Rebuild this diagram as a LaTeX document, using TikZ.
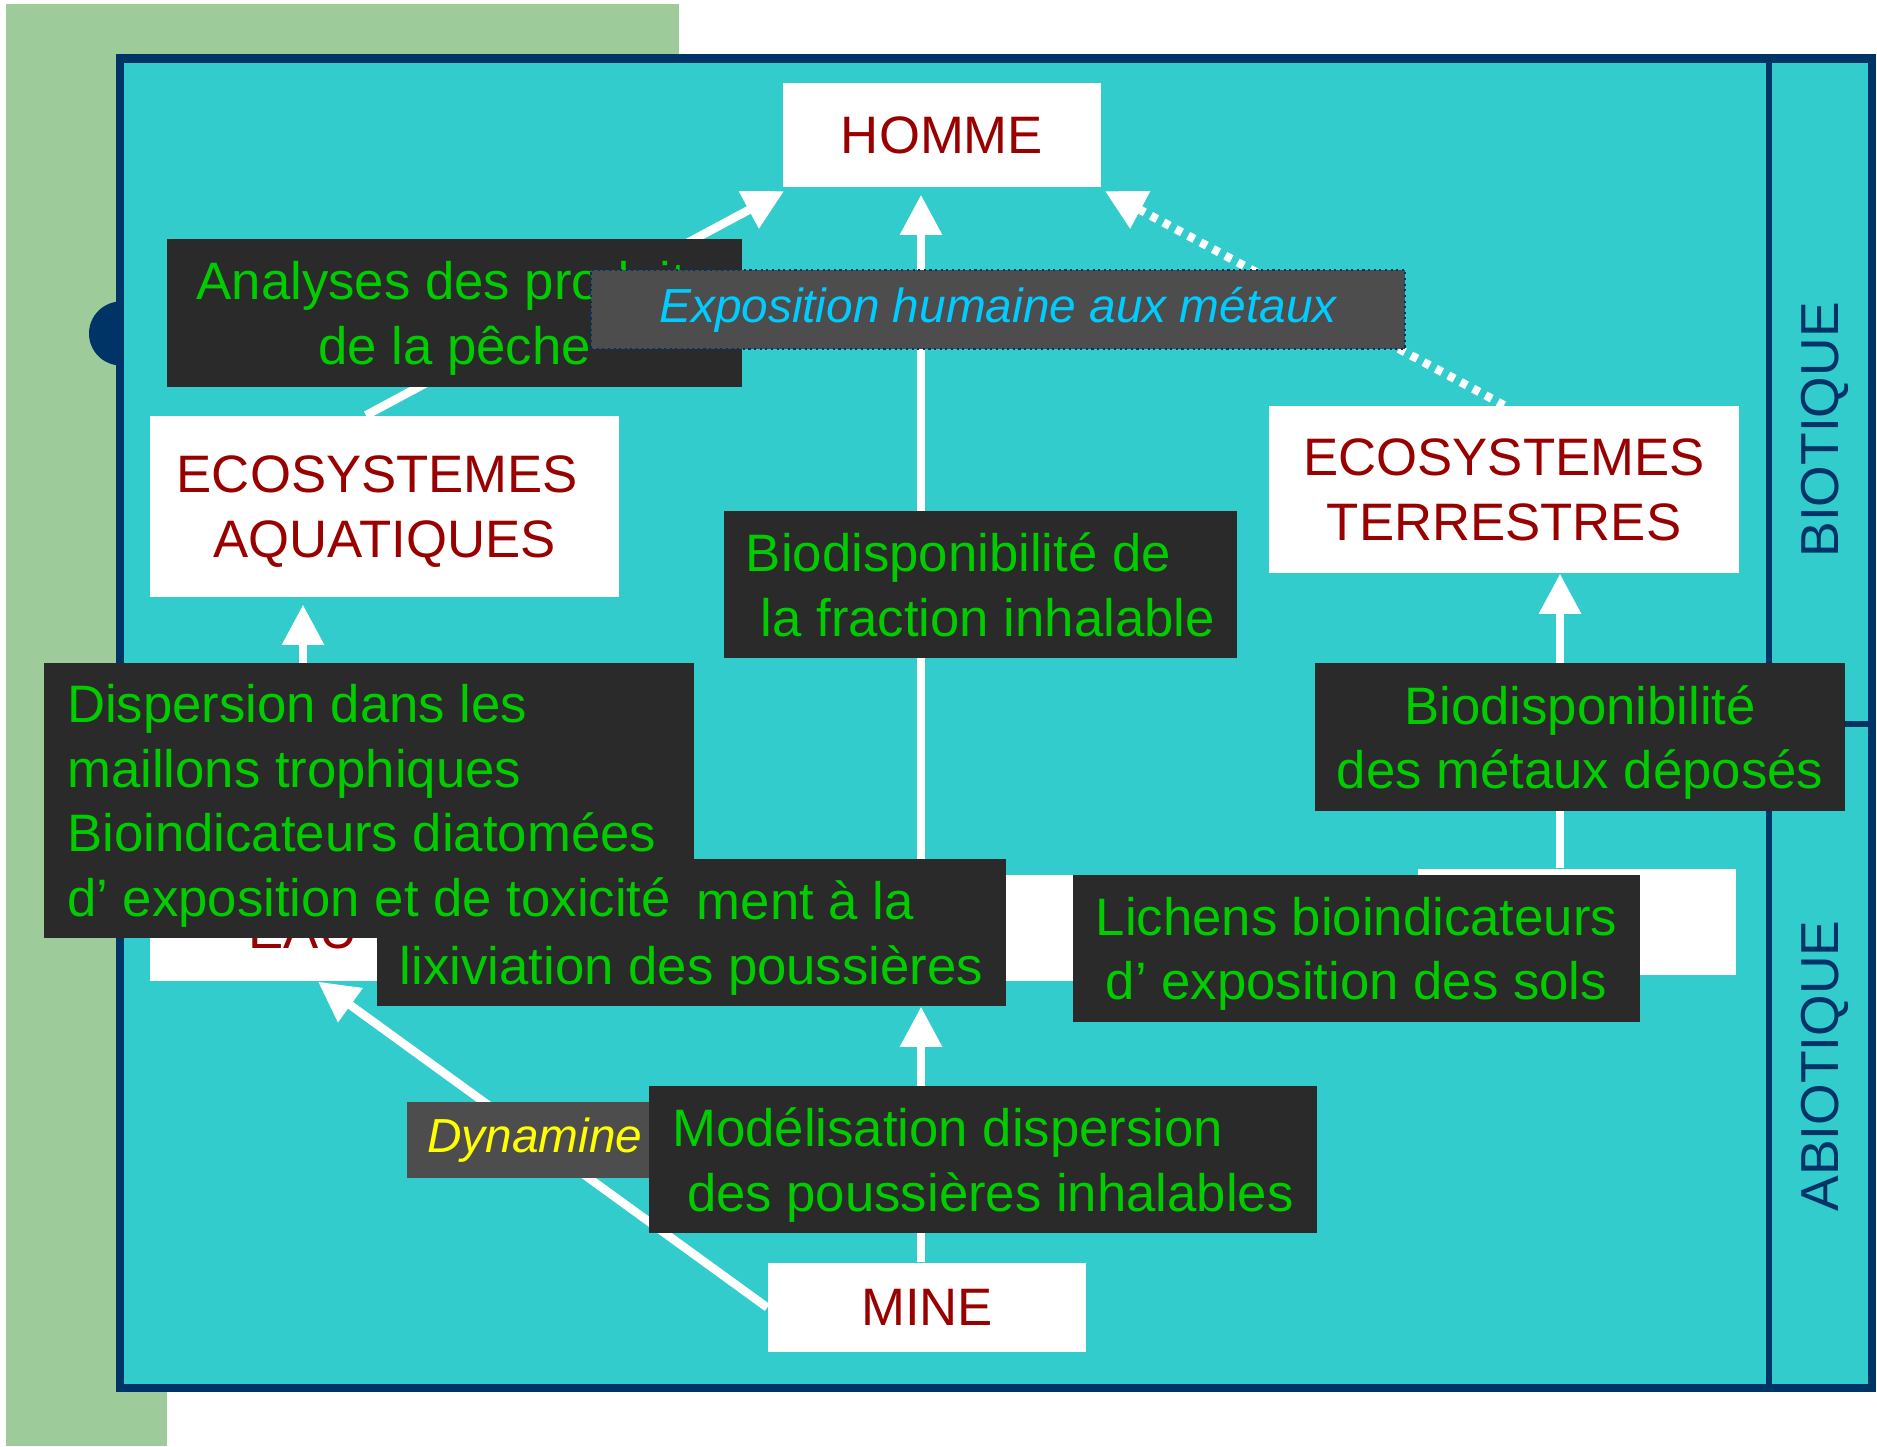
\documentclass[tikz,border=0pt]{standalone}
\usepackage{fontspec}
\setmainfont{Liberation Sans}
\usepackage{tikz}
\usetikzlibrary{arrows.meta, positioning}
\usepackage{xcolor}
\definecolor{bggreen}{HTML}{9DCC9A}
\definecolor{lagoon}{HTML}{33CCCC}
\definecolor{frameblue}{HTML}{003366}
\definecolor{boxdark}{HTML}{2A2A2A}
\definecolor{boxgrey}{HTML}{4D4D4D}
\definecolor{labelgreen}{HTML}{00CC00}
\definecolor{labelred}{HTML}{990000}
\definecolor{labelcyan}{HTML}{00CCFF}
\definecolor{labelyellow}{HTML}{FFFF00}
\tikzset{
	whitebox/.style={fill=white, text=labelred, align=center, inner sep=0pt, text depth=0pt, font=\fontsize{15}{18.4}\selectfont},
	darkbox/.style={fill=boxdark, text=labelgreen, inner sep=0pt, text depth=0pt, font=\fontsize{15}{18.4}\selectfont},
	greybox/.style={fill=boxgrey, inner sep=0pt, font=\fontsize{13.6}{16}\selectfont\itshape},
	flow/.style={white, line width=2.4pt, -{Triangle[length=11.4pt,width=11.4pt]}},
	sidelabel/.style={rotate=90, text=frameblue, inner sep=0pt, font=\fontsize{15.2}{16}\selectfont}
}

\begin{document}
\begin{tikzpicture}
				\useasboundingbox (0,0) rectangle (18.77,14.46);
				\fill[bggreen] (0.06,14.42) rectangle (6.79,10);
				\fill[bggreen] (0.06,14.42) rectangle (1.67,0);
				\fill[frameblue] (1.21,11.125) circle (0.32);
				\filldraw[fill=lagoon, draw=frameblue, line width=2.3pt] (1.20,0.58) rectangle (18.72,13.875);
				\draw[frameblue, line width=1.7pt] (17.685,13.875) -- (17.685,0.58);
				\draw[frameblue, line width=1.7pt] (17.685,7.22) -- (18.72,7.22);
				\node[sidelabel] (bio) at (18.25,10.16) {BIOTIQUE};
				\node[sidelabel] (abio) at (18.25,3.80) {ABIOTIQUE};

				\node[whitebox, minimum width=3.18cm, minimum height=1.04cm] (homme) at (9.42,13.11) {HOMME};
				\node[whitebox, minimum width=4.69cm, minimum height=1.81cm] (ecoaq) at (3.845,9.395) {ECOSYSTEMES\hspace*{4pt}\\AQUATIQUES};
				\node[whitebox, minimum width=4.70cm, minimum height=1.67cm] (ecoterr) at (15.04,9.565) {ECOSYSTEMES\\TERRESTRES};
				\node[whitebox, minimum width=3.06cm, minimum height=1.01cm] (eau) at (3.03,5.155) {EAU};
				\node[whitebox, minimum width=3.10cm, minimum height=1.06cm] (air) at (9.21,5.18) {};
				\node[whitebox, minimum width=3.18cm, minimum height=1.06cm] (sols) at (15.77,5.24) {};
				\node[whitebox, minimum width=3.18cm, minimum height=0.89cm] (mine) at (9.27,1.385) {MINE};
				\coordinate (solsaxis) at (15.60,0);

				\draw[flow, shorten >=2pt] ([xshift=-0.185cm]ecoaq.north) -- ([xshift=0.08cm]homme.south west);
				\draw[flow, shorten >=2pt, dash pattern=on 2pt off 2pt] (ecoterr.north) -- ([xshift=-0.03cm]homme.south east);
				\draw[flow, shorten >=2pt] (air.north) -- (air.north |- homme.south);
				\draw[flow, shorten >=2pt] (eau.north) -- (eau.north |- ecoaq.south);
				\draw[flow] (mine.west) -- ([xshift=0.15cm]eau.south);
				\draw[flow] (sols.north -| solsaxis) -- (ecoterr.south -| solsaxis);

				\node[darkbox, align=center, minimum width=5.75cm, minimum height=1.48cm] (peche) at (4.545,11.33) {Analyses des produits\\de la pêche};
				\node[greybox, text=labelcyan, draw=frameblue, densely dotted, line width=0.6pt, minimum width=8.14cm, minimum height=0.79cm] (expo) at (9.98,11.365) {Exposition humaine aux métaux};
				\node[darkbox, align=left, minimum width=5.13cm, minimum height=1.47cm] (fraction) at (9.805,8.615) {Biodisponibilité de\\\hspace*{.28em}la fraction inhalable};
				\node[darkbox, align=center, minimum width=5.30cm, minimum height=1.48cm] (metaux) at (15.80,7.09) {Biodisponibilité\\des métaux déposés};
				\node[darkbox, align=left, minimum width=6.29cm, minimum height=1.47cm] (lixiv) at (6.915,5.135) {\hspace*{2.97cm}ment à la\\lixiviation des poussières};
				\node[darkbox, align=left, minimum width=6.50cm, minimum height=2.75cm] (trophique) at (3.69,6.455) {Dispersion dans les\\maillons trophiques\\Bioindicateurs diatomées\\d’ exposition et de toxicité};
				\node[darkbox, align=center, minimum width=5.67cm, minimum height=1.47cm] (lichens) at (13.565,4.975) {Lichens bioindicateurs\\d’ exposition des sols};

				\draw[flow] (mine.north -| air) -- (lixiv.south -| air);

				\node[greybox, text=labelyellow, minimum width=2.42cm, minimum height=0.76cm] (dynamine) at (5.28,3.06) {\hspace*{0.14cm}Dynamine};
				\node[darkbox, align=left, minimum width=6.68cm, minimum height=1.47cm] (modele) at (9.83,2.865) {Modélisation dispersion\\\hspace*{.28em}des poussières inhalables};
			\end{tikzpicture}
\end{document}
